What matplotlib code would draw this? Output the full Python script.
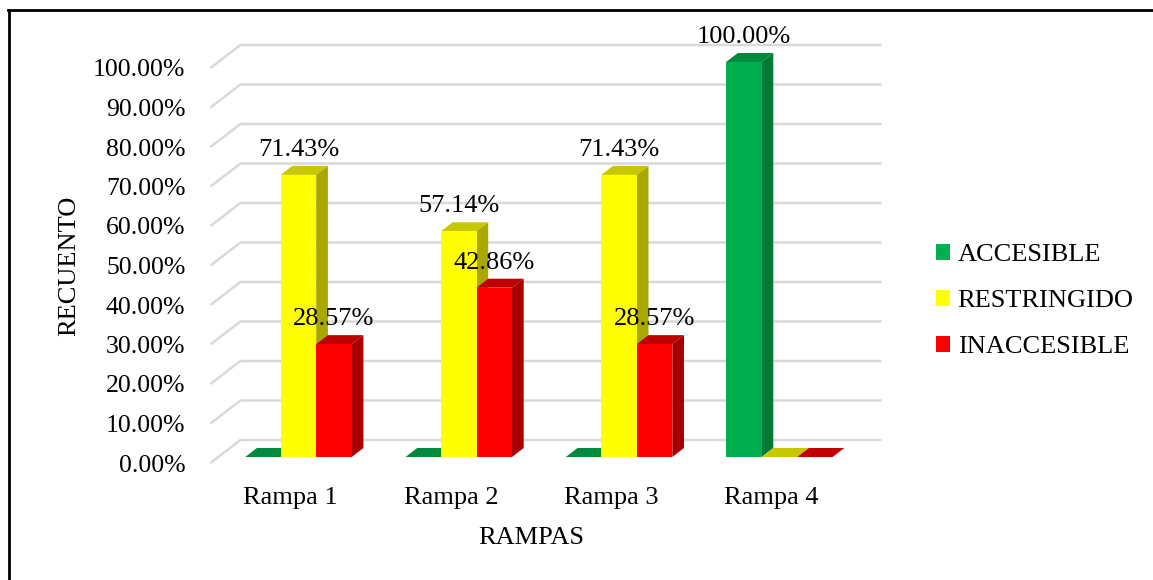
import matplotlib
matplotlib.use('Agg')
import matplotlib.pyplot as plt
from matplotlib.patches import Polygon, Patch
from matplotlib.lines import Line2D

categories = ['Rampa 1', 'Rampa 2', 'Rampa 3', 'Rampa 4']
series_names = ['ACCESIBLE', 'RESTRINGIDO', 'INACCESIBLE']
accesible = [0.0, 0.0, 0.0, 100.00]
restringido = [71.43, 57.14, 71.43, 0.0]
inaccesible = [28.57, 42.86, 28.57, 0.0]
yticks = list(range(0, 101, 10))

plt.rcParams['font.family'] = ['Liberation Serif', 'DejaVu Serif']

W, H = 1153, 580
fig = plt.figure(figsize=(W / 100, H / 100), dpi=100, facecolor='white')

# colours: front, side, top
colors = [
    ('#00B050', '#007A35', '#008A3E'),
    ('#FFFF00', '#A8A800', '#C8C800'),
    ('#FF0000', '#A80000', '#C00000'),
]

# bar plane axes
bx0, bx1, by0, by1 = 218.3, 859.5, 457, 62
ax = fig.add_axes([bx0 / W, (H - by0) / H, (bx1 - bx0) / W, (by0 - by1) / H])
ax.set_xlim(-0.5, 3.5)
ax.set_ylim(0, 100)
ax.axis('off')

p0 = ax.transData.transform((0, 0))
p1 = ax.transData.transform((1, 1))
sx = p1[0] - p0[0]
sy = p1[1] - p0[1]


def depth(t):
    """depth offset t (px along depth) -> data offset"""
    return 1.3 * t / sx, t / sy


# wall gridlines
fdx, fdy = depth(-6)
kdx, kdy = depth(17)
for v in yticks:
    xs = [-0.5 + fdx, -0.5 + kdx, 3.5 + kdx]
    ys = [v + fdy, v + kdy, v + kdy]
    ax.plot(xs, ys, color='#D9D9D9', lw=1.8, clip_on=False, zorder=1,
            solid_capstyle='butt')

# bars
w = 35.5 / sx
bdx, bdy = depth(9)
data = [accesible, restringido, inaccesible]
for i in range(len(categories)):
    for k, vals in enumerate(data):
        h = vals[i]
        x0 = i + (k - 1.5) * w
        x1 = x0 + w
        fc, sc, tc = colors[k]
        top = [(x0, h), (x1, h), (x1 + bdx, h + bdy), (x0 + bdx, h + bdy)]
        ax.add_patch(Polygon(top, closed=True, facecolor=tc, edgecolor='none',
                             zorder=2, clip_on=False))
        if h > 0:
            side = [(x1, 0), (x1 + bdx, bdy), (x1 + bdx, h + bdy), (x1, h)]
            front = [(x0, 0), (x1, 0), (x1, h), (x0, h)]
            ax.add_patch(Polygon(side, closed=True, facecolor=sc, edgecolor='none',
                                 zorder=2, clip_on=False))
            ax.add_patch(Polygon(front, closed=True, facecolor=fc, edgecolor='none',
                                 zorder=2, clip_on=False))

FS = 19

# data labels
for i in range(len(categories)):
    for k, vals in enumerate(data):
        h = vals[i]
        if h > 0:
            xc = i + (k - 1) * w
            ax.annotate(f'{h:.2f}%', (xc, h), xytext=(0, 18),
                        textcoords='offset points', ha='center', va='center',
                        fontsize=FS, color='black', zorder=5, annotation_clip=False)

# front plane axes for tick labels
fx0 = bx0 - 7.8
fy0 = by0 + 6
axf = fig.add_axes([fx0 / W, (H - fy0) / H, (bx1 - bx0) / W, (by0 - by1) / H])
axf.set_xlim(-0.5, 3.5)
axf.set_ylim(0, 100)
axf.patch.set_visible(False)
for s in axf.spines.values():
    s.set_visible(False)
axf.set_yticks(yticks)
axf.set_yticklabels([f'{v:.2f}%' for v in yticks])
axf.set_xticks(range(len(categories)))
axf.set_xticklabels(categories)
axf.tick_params(axis='y', length=0, labelsize=18.5, pad=18)
axf.tick_params(axis='x', length=0, labelsize=FS, pad=17)
axf.set_xlabel('RAMPAS', fontsize=FS, labelpad=13)
axf.set_ylabel('RECUENTO', fontsize=FS, labelpad=9)

# legend
handles = [Patch(facecolor=c[0], edgecolor='none', label=n)
           for c, n in zip(colors, series_names)]
fig.legend(handles=handles, loc='center left', bbox_to_anchor=(936 / W, 1 - 301 / H),
           frameon=False, fontsize=FS, handlelength=0.54, handleheight=0.54,
           handletextpad=0.28, labelspacing=0.9, borderpad=0, borderaxespad=0)

# outer border (top & left visible)
fig.add_artist(Line2D([8 / W, 1.0], [1 - 9.5 / H, 1 - 9.5 / H], color='black', lw=2,
                      transform=fig.transFigure))
fig.add_artist(Line2D([8.5 / W, 8.5 / W], [0, 1 - 9.5 / H], color='black', lw=2,
                      transform=fig.transFigure))

fig.savefig('out.png', dpi=100, facecolor='white')
